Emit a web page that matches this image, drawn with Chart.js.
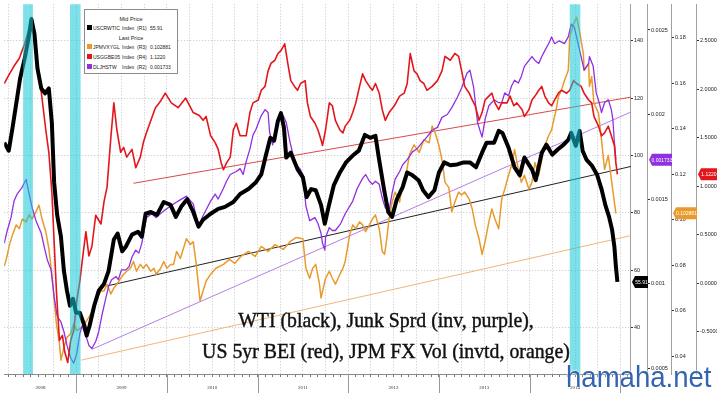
<!DOCTYPE html>
<html>
<head>
<meta charset="utf-8">
<script src="https://cdn.jsdelivr.net/npm/chart.js@4.4.1/dist/chart.umd.min.js"></script>
<style>
  body { margin: 0; background: #fff; }
  #wrap { position: relative; width: 717px; height: 393px; overflow: hidden; background: #fff; }
  #chart { position: absolute; left: 0; top: 0; }
  #legend { position: absolute; left: 84px; top: 9px; width: 92px; height: 63px; background: #fff;
            border: 1px solid #8c8c8c; font-family: "Liberation Sans", sans-serif; font-size: 5px; color: #222; }
  #legend div { position: absolute; white-space: nowrap; line-height: 6px; }
  #legend .hd { left: 0; width: 100%; text-align: center; font-size: 5.5px; }
  #legend i { position: absolute; left: 2px; top: 0; width: 5px; height: 5px; }
  #legend span { position: absolute; top: 0; }
  .note { position: absolute; left: 386px; font-family: "Liberation Serif", serif; font-size: 22px; line-height: 22px;
          color: #111; white-space: nowrap; transform: translateX(-50%) scaleX(0.9); -webkit-text-stroke: 0.45px #111; }
  #wm { position: absolute; left: 566px; top: 363px; font-family: "Liberation Sans", sans-serif; font-size: 29px;
        line-height: 29px; color: #3464b0; white-space: nowrap; transform: scaleX(0.95); transform-origin: 0 0;
        text-shadow: 0 0 2px #fff, 0 0 2px #fff; }
</style>
</head>
<body>
<div id="wrap">
  <canvas id="chart" width="717" height="393"></canvas>
  <div id="legend"></div>
  <div class="note" style="top:309px">WTI (black), Junk Sprd (inv, purple),</div>
  <div class="note" style="top:340px">US 5yr BEI (red), JPM FX Vol (invtd, orange)</div>
  <div id="wm">hamaha.net</div>
</div>
<script>
// x values are months since Jan 2008 (12 = Jan 2009)
const wtiMonth = [2.5,3.1,3.6,4.1,4.6,5.2,5.7,6.1,6.5,6.9,7.4,7.9,8.4,8.8,9.1,9.5,10.0,10.4,10.8,11.2,
  11.6,12.0,12.5,13.1,13.4,13.8,14.4,15.0,15.7,16.3,17.0,17.5,18.1,18.6,19.4,20.2,20.7,21.2,21.9,22.7,
  23.6,24.5,25.2,25.9,26.7,27.5,28.2,28.8,29.8,30.8,31.7,32.8,33.7,34.8,35.8,36.5,37.1,37.7,38.2,38.7,
  39.1,39.5,39.8,40.4,41.3,42.0,42.5,43.1,43.7,44.4,44.9,45.4,46.1,46.9,47.7,48.6,49.4,50.2,50.9,51.6,
  52.1,52.8,53.3,53.8,54.4,55.2,55.8,56.5,57.3,57.9,58.6,59.4,60.0,60.7,61.5,62.4,63.3,64.1,64.9,65.7,
  66.3,67.3,67.9,68.4,69.2,70.0,70.7,71.3,72.3,72.8,73.6,74.2,75.0,75.7,76.5,77.1,77.5,78.1,78.6,79.0,
  79.5,80.2,80.9,81.5,82.0,82.5,82.9,83.2,83.4,83.6];
const wtiPrice = [104.5,101.7,109.7,118.3,126.9,133.8,140.7,147.6,142.4,130.3,123.4,121.7,123.4,111.4,90.7,79.3,71.7,59.7,52.8,47.6,
  50.0,45.2,45.2,40.7,37.2,40.7,47.6,52.8,55.2,59.7,70.7,72.8,66.6,68.3,72.4,73.4,71.7,79.7,80.3,79.3,
  83.8,82.8,78.6,82.1,84.8,80.3,75.2,77.6,79.7,81.4,82.1,83.8,86.6,88.3,90.7,93.4,100.0,106.2,105.2,112.1,
  114.8,109.7,99.3,101.0,95.2,92.4,85.5,88.3,87.9,82.8,76.2,82.1,89.7,94.1,97.6,100.0,101.7,107.2,106.2,106.9,
  98.3,87.2,80.3,78.6,84.5,89.0,94.1,93.1,91.4,87.9,85.5,87.9,94.1,97.6,96.6,96.9,97.6,97.6,95.9,101.0,
  104.5,104.5,108.6,107.9,102.8,95.9,93.1,99.3,95.2,91.4,101.0,103.8,100.3,102.1,103.8,105.5,107.9,103.4,108.6,101.7,
  98.6,96.6,93.4,88.3,82.8,78.6,74.1,68.3,61.4,55.91];

const beiMonth = [2.5,3.2,3.8,4.5,5.2,5.8,6.2,6.6,7.0,7.5,8.0,8.4,8.8,9.1,9.4,9.8,10.2,10.5,10.9,11.3,
  11.7,12.1,12.5,12.9,13.3,13.7,14.1,14.6,15.3,15.7,16.1,16.6,17.0,17.4,17.9,18.3,18.7,19.4,19.9,20.5,
  20.9,21.3,21.9,22.5,23.2,23.8,24.6,25.5,26.5,27.5,28.3,28.8,29.2,29.8,30.4,30.8,31.2,31.5,31.9,32.4,
  32.8,33.2,33.7,34.5,35.0,35.4,36.1,36.5,37.0,37.4,37.8,38.3,38.7,39.1,39.6,40.0,40.4,40.9,41.3,41.7,
  42.3,42.6,43.0,43.6,44.0,44.4,44.6,45.0,45.5,45.9,46.3,46.9,47.3,47.6,48.2,48.6,49.0,49.5,49.9,50.3,
  50.8,51.2,51.6,52.1,52.5,52.9,53.4,54.1,54.8,55.4,55.8,56.2,56.7,57.1,57.5,58.0,58.4,59.1,59.8,60.4,
  60.8,61.5,62.1,62.6,63.0,63.4,64.0,64.4,64.8,65.3,65.7,66.1,66.6,67.0,67.4,67.9,68.3,69.0,69.4,69.9,
  70.3,71.0,71.3,71.9,72.3,72.7,73.2,73.6,74.0,74.5,74.9,75.3,75.8,76.2,76.9,77.3,77.8,78.2,78.8,79.2,
  79.8,80.2,80.5,81.1,81.5,81.9,82.4,82.8,83.2,83.4,83.6];
const beiRate = [2.06,2.16,2.24,2.32,2.47,2.62,2.65,2.47,2.21,1.91,1.58,1.35,0.94,0.43,-0.08,-0.59,-0.54,-0.71,-0.82,-0.59,
  -0.49,-0.18,0.02,0.28,0.53,0.28,0.38,0.70,0.61,0.84,0.99,1.50,1.86,1.58,1.35,1.40,1.30,1.38,1.19,1.30,
  1.45,1.55,1.68,1.81,1.88,1.96,1.86,1.81,1.91,1.76,1.73,1.68,1.72,1.52,1.45,1.38,1.24,1.17,1.24,1.30,
  1.58,1.65,1.52,1.52,1.76,1.86,1.89,1.99,2.03,2.19,2.27,2.30,2.37,2.40,2.47,2.27,2.09,2.03,1.99,2.06,
  2.09,1.86,1.72,1.65,1.58,1.48,1.42,1.58,1.86,1.83,1.68,1.58,1.55,1.62,1.68,1.76,1.86,2.03,2.16,2.09,
  2.03,1.99,2.06,1.96,1.79,1.68,1.76,1.83,1.93,1.96,2.06,2.37,2.19,2.16,2.09,2.06,1.99,2.03,2.09,2.19,
  2.34,2.30,2.37,2.34,2.19,2.03,1.96,1.89,1.83,1.68,1.76,1.89,1.93,1.96,1.86,1.79,1.86,1.86,1.93,1.83,
  1.86,1.79,1.72,1.79,1.89,1.93,1.99,2.03,1.93,1.86,1.83,1.89,1.96,1.99,1.96,1.99,2.09,2.06,2.03,1.96,
  1.89,1.86,1.72,1.62,1.52,1.55,1.62,1.52,1.42,1.24,1.122];

const fxvMonth = [2.5,2.8,3.2,3.6,4.1,4.5,4.9,5.4,5.8,6.2,6.7,7.1,7.5,8.0,8.4,8.8,9.4,9.8,10.0,10.4,
  10.8,11.3,11.7,12.1,12.7,13.1,13.4,14.0,14.4,14.8,15.3,15.7,16.1,16.6,17.0,17.4,17.9,18.3,18.7,19.2,
  19.6,20.0,20.5,20.9,21.3,21.9,22.3,22.6,23.2,23.6,24.0,24.5,24.9,25.3,25.8,26.2,26.6,27.1,27.5,27.9,
  28.4,28.8,29.2,29.8,30.5,31.5,32.3,33.0,33.8,34.8,35.7,36.5,37.4,38.3,39.4,40.3,41.1,42.0,42.4,42.9,
  43.3,43.7,44.2,44.4,45.0,45.5,45.9,46.3,46.9,47.3,47.6,48.2,48.6,49.0,49.5,49.9,50.3,50.8,51.2,51.6,
  52.1,52.5,52.8,53.0,53.4,53.8,54.2,54.8,55.2,55.7,56.1,56.7,57.4,58.0,58.7,59.1,59.5,60.0,60.4,60.8,
  61.3,61.7,62.1,62.6,63.0,63.4,64.0,64.4,64.8,65.3,65.7,66.1,66.6,67.0,67.4,67.9,68.3,68.7,69.2,69.6,
  70.0,70.5,70.9,71.3,71.9,72.3,72.7,73.2,73.6,74.0,74.5,74.9,75.3,75.5,75.8,76.2,76.6,77.1,77.3,77.8,
  78.2,78.6,79.1,79.2,79.8,79.9,80.2,80.5,81.1,81.5,81.9,82.4,82.8,83.2,83.4];
const fxvInv = [0.0796,0.0830,0.0891,0.0935,0.0978,0.0961,0.1004,0.0991,0.1022,0.1004,
  0.1035,0.1065,0.1004,0.0948,0.0874,0.0761,0.0543,0.0457,0.0383,0.0439,
  0.0483,0.0500,0.0543,0.0513,0.0526,0.0543,0.0557,0.0587,0.0630,0.0657,
  0.0687,0.0687,0.0717,0.0674,0.0700,0.0717,0.0743,0.0761,0.0774,0.0787,
  0.0817,0.0774,0.0804,0.0787,0.0804,0.0774,0.0787,0.0761,0.0787,0.0817,
  0.0787,0.0804,0.0804,0.0861,0.0830,0.0874,0.0917,0.0891,0.0904,0.0804,
  0.0643,0.0687,0.0730,0.0761,0.0787,0.0804,0.0826,0.0809,0.0839,0.0861,
  0.0839,0.0883,0.0861,0.0891,0.0870,0.0904,0.0922,0.0917,0.0787,0.0743,
  0.0787,0.0804,0.0717,0.0657,0.0743,0.0774,0.0743,0.0717,0.0761,0.0787,
  0.0817,0.0935,0.0978,0.0961,0.0991,0.0978,0.0948,0.0978,0.1004,0.1022,
  0.0961,0.0861,0.0848,0.0891,0.1004,0.1078,0.1122,0.1078,0.1165,0.1209,
  0.1287,0.1330,0.1296,0.1352,0.1339,0.1413,0.1383,0.1326,0.1265,0.1165,
  0.1143,0.1035,0.1078,0.1122,0.1109,0.1122,0.1091,0.1048,0.0978,0.0917,
  0.0848,0.0904,0.0991,0.1048,0.1004,0.0961,0.1091,0.1135,0.1196,0.1239,
  0.1309,0.1222,0.1165,0.1196,0.1135,0.1165,0.1252,0.1196,0.1265,0.1326,
  0.1370,0.1396,0.1457,0.1483,0.1543,0.1570,0.1613,0.1657,0.1804,0.1861,
  0.1891,0.1830,0.1730,0.1657,0.1687,0.1587,0.1630,0.1513,0.1470,0.1352,
  0.1222,0.1283,0.1178,0.1078,0.102881];

const hyMonth = [2.5,2.9,3.4,3.8,4.2,4.8,5.2,5.4,5.8,6.2,6.7,7.4,7.8,8.2,8.7,9.1,9.5,10.0,10.4,10.8,
  11.3,11.7,12.1,12.5,12.8,13.3,13.7,14.1,14.6,15.0,15.4,15.9,16.3,16.7,17.3,17.6,18.0,18.6,19.0,19.4,
  19.9,20.3,20.7,21.3,22.0,22.6,23.6,24.5,25.5,26.6,27.5,28.2,28.8,29.8,30.4,30.8,31.5,31.9,32.4,33.2,
  33.7,34.1,34.5,35.0,35.4,35.8,36.5,37.0,37.4,37.6,38.0,38.4,39.0,39.4,39.8,40.3,40.7,41.1,41.6,42.0,
  42.4,42.9,43.6,44.0,44.4,44.6,44.9,45.0,45.5,45.9,46.3,47.0,47.6,48.6,49.2,49.9,50.3,50.8,51.2,51.6,
  52.1,52.5,52.9,53.4,53.8,54.2,54.8,55.2,55.8,56.5,57.1,57.8,58.4,59.1,59.8,60.4,61.1,61.7,62.4,63.0,
  63.7,64.1,64.6,65.1,65.7,66.1,66.6,67.3,67.9,68.3,68.7,69.2,69.6,70.0,70.5,70.9,71.3,71.9,72.3,72.7,
  73.2,73.6,74.0,74.5,74.9,75.3,75.9,76.6,77.1,77.5,77.9,78.4,78.8,79.2,79.8,79.9,80.4,80.8,81.2,81.5,
  81.9,82.4,82.8,83.0,83.2,83.4];
const hyInv = [0.001238,0.001314,0.001390,0.001488,0.001529,0.001564,0.001599,0.001616,0.001529,0.001448,
  0.001372,0.001297,0.001215,0.001140,0.001081,0.000924,0.000808,0.000773,0.000715,0.000634,
  0.000558,0.000529,0.000587,0.000703,0.000750,0.000692,0.000634,0.000616,0.000657,0.000715,
  0.000808,0.000907,0.000983,0.001023,0.001041,0.001023,0.001081,0.001081,0.001099,0.001157,
  0.001198,0.001180,0.001238,0.001390,0.001413,0.001390,0.001430,0.001459,0.001488,0.001517,
  0.001471,0.001343,0.001401,0.001488,0.001529,0.001500,0.001564,0.001605,0.001645,0.001663,
  0.001680,0.001645,0.001721,0.001797,0.001878,0.001913,0.001994,0.002029,0.002012,0.001895,
  0.001820,0.001913,0.001994,0.001994,0.001953,0.001837,0.001762,0.001703,0.001680,0.001645,
  0.001459,0.001372,0.001390,0.001355,0.001297,0.001238,0.001198,0.001273,0.001331,0.001314,
  0.001314,0.001355,0.001413,0.001488,0.001564,0.001622,0.001645,0.001605,0.001587,0.001605,
  0.001587,0.001506,0.001448,0.001430,0.001535,0.001616,0.001663,0.001703,0.001733,0.001779,
  0.001797,0.001837,0.001866,0.001907,0.001924,0.001983,0.002000,0.002041,0.002099,0.002157,
  0.002244,0.002262,0.002157,0.001953,0.001866,0.001971,0.002052,0.002087,0.002070,0.002070,
  0.002128,0.002110,0.002169,0.002203,0.002186,0.002227,0.002285,0.002320,0.002343,0.002320,
  0.002302,0.002343,0.002378,0.002419,0.002459,0.002419,0.002436,0.002419,0.002459,0.002535,
  0.002517,0.002419,0.002343,0.002262,0.002302,0.002343,0.002285,0.002128,0.002070,0.002012,
  0.002070,0.002087,0.002029,0.001971,0.001837,0.001733];

// hand-drawn trend lines (start / end)
const wtiTrendMonth = [16.1, 85.4], wtiTrendValue = [54.5, 96.2];
const beiTrendMonth = [19.6, 85.4], beiTrendValue = [1.03, 1.92];
const hyTrendMonth = [14.1, 85.4], hyTrendValue = [0.000611, 0.002015];
const fxvTrendMonth = [12.7, 85.4], fxvTrendValue = [0.0383, 0.0931];

// shaded periods
const bandStart = [5.0, 11.2, 77.3];
const bandEnd = [6.3, 12.6, 78.7];

// axis ticks
const yearLabels = ['2008', '2009', '2010', '2011', '2012', '2013', '2014'];
const yearLabelAt = [7.3, 18, 30, 42, 54, 66, 78];
const yearStarts = [12, 24, 36, 48, 60, 72, 84];
const r1Ticks = [40, 60, 80, 100, 120, 140];
const r2Ticks = [0.0005, 0.001, 0.0015, 0.002, 0.0025];
const r3Ticks = [0.04, 0.06, 0.08, 0.10, 0.12, 0.14, 0.16, 0.18];
const r4Ticks = [-0.5, 0, 0.5, 1.0, 1.5, 2.0, 2.5];

const BLACK = '#000000', ORANGE = '#e89a2c', RED = '#e3161b', PURPLE = '#9030e0';

function pts(ms, vs) { return ms.map((m, i) => ({ x: m, y: vs[i] })); }
const last = a => a[a.length - 1];

// legend box
const legendRows = [
  { hd: 'Mid Price', top: 6 },
  { color: BLACK, name: 'USCRWTIC', ax: '(R1)', val: last(wtiPrice).toFixed(2), top: 15 },
  { hd: 'Last Price', top: 25 },
  { color: ORANGE, name: 'JPMVXYGL', ax: '(R3)', val: last(fxvInv).toFixed(6), top: 34 },
  { color: RED, name: 'USGGBE05', ax: '(R4)', val: last(beiRate).toFixed(4), top: 44 },
  { color: PURPLE, name: 'DLJHSTW', ax: '(R2)', val: last(hyInv).toFixed(6), top: 54 }
];
const lg = document.getElementById('legend');
legendRows.forEach(r => {
  const d = document.createElement('div');
  d.style.top = r.top + 'px';
  if (r.hd) {
    d.className = 'hd';
    d.textContent = r.hd;
  } else {
    d.style.left = '0px';
    d.style.width = '92px';
    d.innerHTML = '<i style="background:' + r.color + '"></i>' +
      '<span style="left:8px">' + r.name + '</span>' +
      '<span style="left:37px">Index</span>' +
      '<span style="left:52px">' + r.ax + '</span>' +
      '<span style="left:65px">' + r.val + '</span>';
  }
  lg.appendChild(d);
});

const bandPlugin = {
  id: 'bands',
  afterDatasetsDraw(chart) {
    const { ctx, chartArea } = chart;
    const xs = chart.scales.x;
    ctx.save();
    ctx.fillStyle = 'rgba(20,200,215,0.55)';
    bandStart.forEach((s, i) => {
      const x0 = xs.getPixelForValue(s), x1 = xs.getPixelForValue(bandEnd[i]);
      ctx.fillRect(x0, chartArea.top, x1 - x0, chartArea.bottom - chartArea.top);
    });
    ctx.restore();
  }
};

const yearPlugin = {
  id: 'years',
  afterDraw(chart) {
    const { ctx } = chart;
    const xs = chart.scales.x;
    ctx.save();
    ctx.strokeStyle = '#999';
    ctx.lineWidth = 1;
    yearStarts.forEach(m => {
      const px = Math.round(xs.getPixelForValue(m)) + 0.5;
      ctx.beginPath();
      ctx.moveTo(px, xs.top);
      ctx.lineTo(px, xs.bottom);
      ctx.stroke();
    });
    ctx.restore();
  }
};

const tags = [
  { axis: 'r1', value: last(wtiPrice), text: last(wtiPrice).toFixed(2), bg: BLACK, fg: '#fff' },
  { axis: 'r2', value: last(hyInv), text: last(hyInv).toFixed(6), bg: PURPLE, fg: '#fff' },
  { axis: 'r3', value: last(fxvInv), text: last(fxvInv).toFixed(6), bg: ORANGE, fg: '#fff' },
  { axis: 'r4', value: last(beiRate), text: last(beiRate).toFixed(4), bg: RED, fg: '#fff' }
];
const tagPlugin = {
  id: 'tags',
  afterDraw(chart) {
    const { ctx } = chart;
    ctx.save();
    tags.forEach(t => {
      const s = chart.scales[t.axis];
      const y = s.getPixelForValue(t.value);
      const x0 = s.left + 1, x1 = s.right;
      ctx.fillStyle = t.bg;
      ctx.beginPath();
      ctx.moveTo(x0, y);
      ctx.lineTo(x0 + 3, y - 6);
      ctx.lineTo(x1, y - 6);
      ctx.lineTo(x1, y + 6);
      ctx.lineTo(x0 + 3, y + 6);
      ctx.closePath();
      ctx.fill();
      ctx.fillStyle = t.fg;
      ctx.font = '5px "Liberation Sans"';
      ctx.textAlign = 'center';
      ctx.textBaseline = 'middle';
      ctx.fillText(t.text, (x0 + x1) / 2 + 1.5, y + 0.5);
    });
    ctx.restore();
  }
};

function rightAxis(min, max, width, weight, tickList, fmt, gridOn) {
  return {
    type: 'linear', position: 'right', weight: weight, min: min, max: max,
    afterFit: s => { s.width = width; },
    afterBuildTicks: s => { s.ticks = tickList.map(v => ({ value: v })); },
    grid: { drawOnChartArea: gridOn, color: '#c4c4c4', tickColor: '#333', tickLength: 2 },
    border: { color: '#a0a0a0', dash: [1, 2] },
    ticks: { padding: 1, autoSkip: false, color: '#222', font: { size: 5.5, family: 'Liberation Sans' }, callback: fmt }
  };
}

new Chart(document.getElementById('chart'), {
  type: 'line',
  data: {
    datasets: [
      { label: 'USCRWTIC Index', data: pts(wtiMonth, wtiPrice), yAxisID: 'r1', borderColor: BLACK, borderWidth: 4, order: 0 },
      { label: 'USGGBE05 Index', data: pts(beiMonth, beiRate), yAxisID: 'r4', borderColor: RED, borderWidth: 1.6, order: 1 },
      { label: 'DLJHSTW Index', data: pts(hyMonth, hyInv), yAxisID: 'r2', borderColor: PURPLE, borderWidth: 1.3, order: 2 },
      { label: 'JPMVXYGL Index', data: pts(fxvMonth, fxvInv), yAxisID: 'r3', borderColor: ORANGE, borderWidth: 1.5, order: 3 },
      { label: 'wti trend', data: pts(wtiTrendMonth, wtiTrendValue), yAxisID: 'r1', borderColor: '#222', borderWidth: 1, order: 5 },
      { label: 'bei trend', data: pts(beiTrendMonth, beiTrendValue), yAxisID: 'r4', borderColor: '#d84a4a', borderWidth: 1, order: 5 },
      { label: 'hy trend', data: pts(hyTrendMonth, hyTrendValue), yAxisID: 'r2', borderColor: '#b57de8', borderWidth: 1, order: 5 },
      { label: 'fxv trend', data: pts(fxvTrendMonth, fxvTrendValue), yAxisID: 'r3', borderColor: '#efb677', borderWidth: 1, order: 5 }
    ]
  },
  options: {
    responsive: false,
    animation: false,
    devicePixelRatio: 1,
    layout: { padding: 0, autoPadding: false },
    plugins: { legend: { display: false }, tooltip: { enabled: false } },
    elements: { point: { radius: 0 }, line: { tension: 0, borderJoinStyle: 'round' } },
    scales: {
      x: {
        type: 'linear', position: 'bottom', min: 2.5, max: 85.4,
        afterFit: s => { s.height = 19; },
        afterBuildTicks: s => {
          const t = [];
          for (let m = 3; m <= 85; m++) t.push({ value: m });
          yearLabelAt.forEach(v => { if (!Number.isInteger(v)) t.push({ value: v }); });
          t.sort((a, b) => a.value - b.value);
          s.ticks = t;
        },
        grid: {
          color: c => (Number.isInteger(c.tick.value) && c.tick.value % 3 === 0) ? '#c4c4c4' : 'rgba(0,0,0,0)',
          tickColor: c => Number.isInteger(c.tick.value) ? '#777' : 'rgba(0,0,0,0)',
          tickLength: 3
        },
        border: { color: '#8a8a8a', dash: [1, 2] },
        ticks: {
          autoSkip: false, maxRotation: 0, padding: 8, color: '#333',
          font: { size: 5, family: 'Liberation Serif' },
          callback: v => { const i = yearLabelAt.indexOf(v); return i < 0 ? '' : yearLabels[i]; }
        }
      },
      r1: rightAxis(23.79, 152.76, 17, 0, r1Ticks, v => String(v), true),
      r2: rightAxis(0.000465, 0.002652, 24, 1, r2Ticks, v => String(v), false),
      r3: rightAxis(0.0322, 0.1948, 25, 2, r3Ticks, v => v.toFixed(2), false),
      r4: rightAxis(-0.9388, 2.8776, 20, 3, r4Ticks, v => v.toFixed(4), false)
    }
  },
  plugins: [bandPlugin, yearPlugin, tagPlugin]
});
</script>
</body>
</html>
